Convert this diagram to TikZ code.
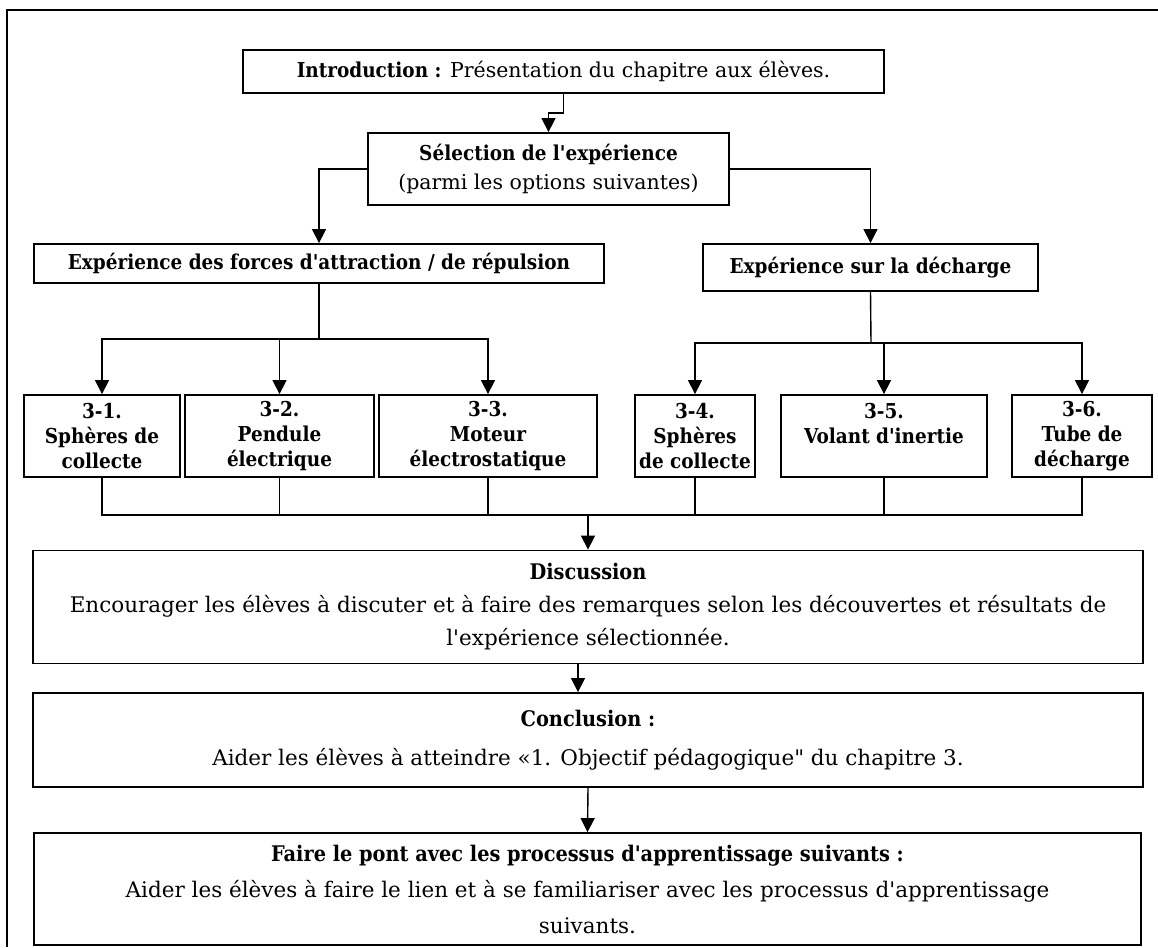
\documentclass[tikz,border=0pt]{standalone}
\usepackage{fontspec}
\setmainfont{DejaVu Serif}[Ligatures=TeXOff, BoldFont={DejaVu Serif Condensed Bold}]
\usetikzlibrary{arrows.meta}

\tikzstyle{box}=[draw=black, line width=1.8pt, inner sep=0pt, align=center,
font=\fontsize{20.5}{33}\selectfont]
\tikzstyle{wide}=[box, minimum width=1110pt]
\tikzstyle{title}=[box, font=\bfseries\fontsize{20.5}{33}\selectfont]
\tikzstyle{branch}=[box, minimum height=82pt,
font=\bfseries\fontsize{20.5}{25}\selectfont]
\tikzstyle{link}=[line width=1.4pt]
\tikzstyle{arrow}=[link, -{Triangle[length=14pt, width=14pt]}]

\begin{document}
\begin{tikzpicture}[x=1pt, y=-1pt]
  \useasboundingbox (0,0) rectangle (1158,947);

  % Frame
  \draw[line width=1.8pt] (7,947) -- (7,10) -- (1158,10);

  % Top Nodes
  \node (intro) at (563.5, 71.5) [box, minimum width=641pt, minimum height=43pt]
    {\textbf{Introduction :} Présentation du chapitre aux élèves.};
  \node (select) at (548.5, 169) [box, minimum width=361pt, minimum height=72pt,
    font=\fontsize{20.5}{29}\selectfont]
    {\textbf{Sélection de l'expérience}\\(parmi les options suivantes)};
  \node (attr) at (319, 263.5) [title, minimum width=570pt, minimum height=39pt]
    {Expérience des forces d'attraction / de répulsion};
  \node (dech) at (870.5, 267.5) [title, minimum width=335pt, minimum height=47pt]
    {Expérience sur la décharge};

  % Experiment Nodes
  \node (e1) at (102, 436) [branch, minimum width=156pt] {3-1.\\Sphères de\\collecte};
  \node (e2) at (279.5, 436) [branch, minimum width=189pt] {3-2.\\Pendule\\électrique};
  \node (e3) at (488, 436) [branch, minimum width=218pt] {3-3.\\Moteur\\électrostatique};
  \node (e4) at (695, 436) [branch, minimum width=120pt] {3-4.\\Sphères\\de collecte};
  \node (e5) at (884, 436) [branch, minimum width=206pt] {3-5.\\Volant d'inertie\\\mbox{}};
  \node (e6) at (1082, 436) [branch, minimum width=140pt] {3-6.\\Tube de\\décharge};

  % Bottom Nodes
  \node (disc) at (588, 607) [wide, minimum height=113pt,
    font=\fontsize{21.5}{33}\selectfont]
    {\textbf{Discussion}\\Encourager les élèves à discuter et à faire des remarques selon les découvertes et résultats de\\l'expérience sélectionnée.};
  \node (concl) at (588, 740) [wide, minimum height=94pt,
    font=\fontsize{21.5}{39}\selectfont]
    {\textbf{Conclusion :}\\Aider les élèves à atteindre «1. Objectif pédagogique" du chapitre 3.};
  \node (next) at (587.5, 889) [wide, minimum width=1107pt, minimum height=112pt,
    font=\fontsize{21.5}{36}\selectfont]
    {\textbf{Faire le pont avec les processus d'apprentissage suivants :}\\Aider les élèves à faire le lien et à se familiariser avec les processus d'apprentissage\\suivants.};

  % Forks
  \coordinate (attrfork) at (319, 339);
  \coordinate (dechfork) at (871, 343);
  \coordinate (merge) at (588, 515);

  % Top Edges
  \draw[arrow] (intro.south) -- ++(0,19) -| (select.north);
  \draw[arrow] (select.west) -| (attr.north);
  \draw[arrow] (select.east) -| (dech.north);

  % Branch Edges
  \draw[link] (attr.south) -- (attrfork);
  \draw[arrow] (attrfork) -| (e1.north);
  \draw[arrow] (attrfork) -| (e2.north);
  \draw[arrow] (attrfork) -| (e3.north);
  \draw[link] (dech.south) -- (dechfork);
  \draw[arrow] (dechfork) -| (e4.north);
  \draw[arrow] (dechfork) -| (e5.north);
  \draw[arrow] (dechfork) -| (e6.north);

  % Merge Edges
  \draw[link] (e1.south) |- (merge);
  \draw[link] (e2.south) |- (merge);
  \draw[link] (e3.south) |- (merge);
  \draw[link] (e4.south) |- (merge);
  \draw[link] (e5.south) |- (merge);
  \draw[link] (e6.south) |- (merge);
  \draw[line width=2.2pt] (e1.south |- merge) -- (e6.south |- merge);
  \draw[arrow] (merge) -- (disc.north);

  % Bottom Edges
  \draw[arrow] ([xshift=-10pt]disc.south) -- ([xshift=-10pt]concl.north);
  \draw[arrow] (concl.south) -- (next.north);
\end{tikzpicture}
\end{document}
